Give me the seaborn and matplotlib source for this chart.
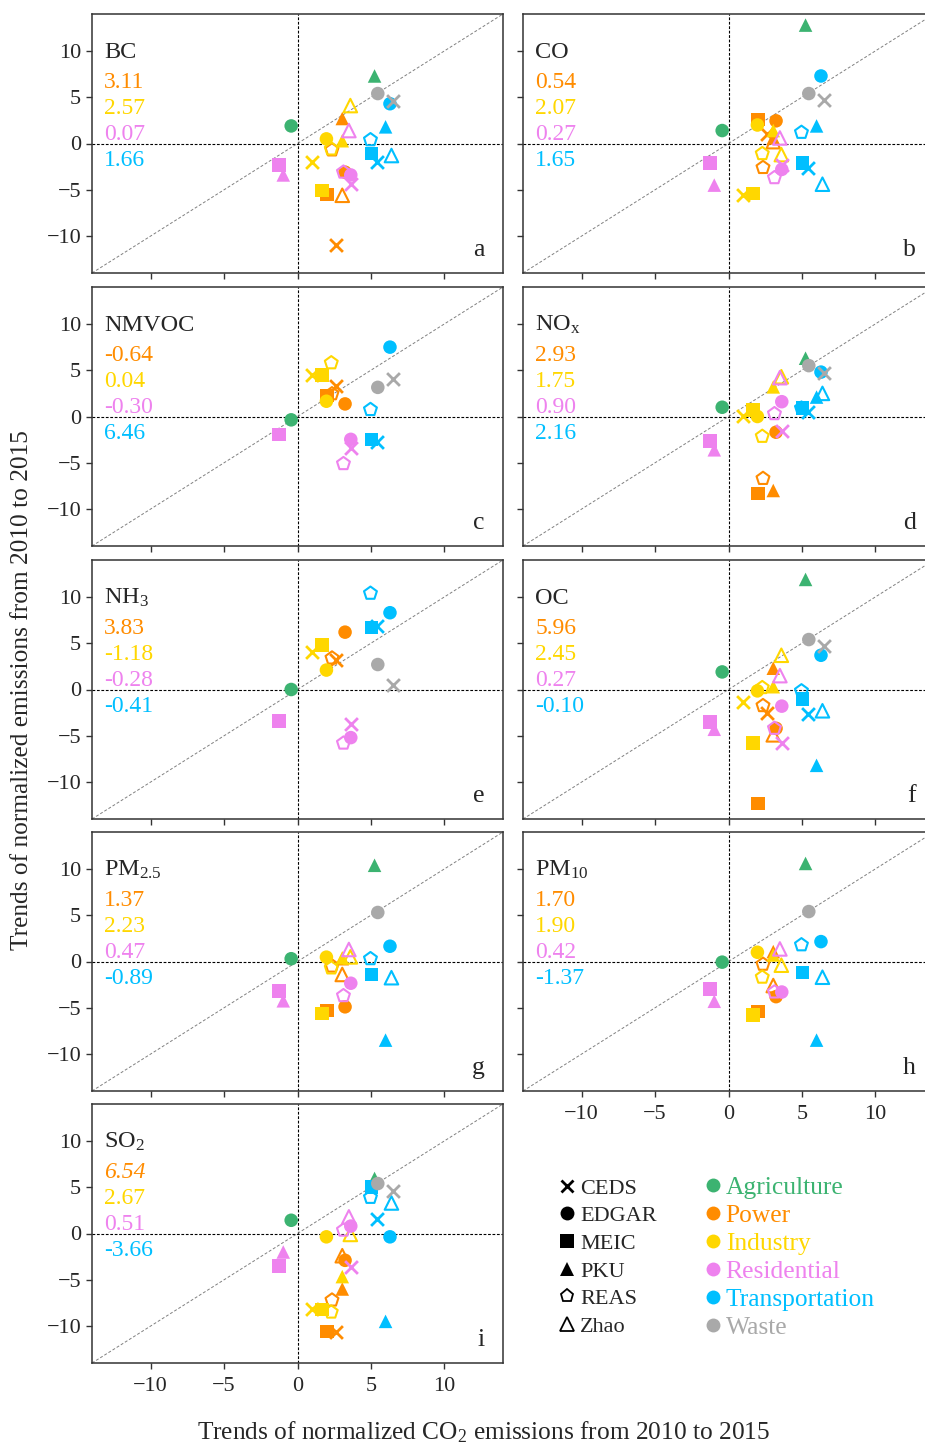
import numpy as np
import pandas as pd
import matplotlib
matplotlib.use("Agg")
import matplotlib.pyplot as plt
import seaborn as sns
from matplotlib.lines import Line2D

nan = np.nan

# ---------------- data ----------------
sectors = ["Agriculture", "Power", "Industry", "Residential", "Transportation", "Waste"]
sector_colors = ["mediumseagreen", "darkorange", "gold", "violet", "deepskyblue", "darkgray"]
inventories = ["CEDS", "EDGAR", "MEIC", "PKU", "REAS", "Zhao"]
inv_markers = ["x", "o", "s", "^", "p", "^"]
inv_open = [False, False, False, False, True, True]

# CO2 trend (x) per sector (rows) and inventory (cols: CEDS, EDGAR, MEIC, PKU, REAS, Zhao)
co2_trend = [
    [nan, -0.43, nan, 5.25, nan, nan],
    [2.60, 3.24, 2.00, 3.05, 2.35, 3.05],
    [1.00, 1.97, 1.66, 3.05, 2.30, 3.60],
    [3.67, 3.63, -1.27, -0.97, 3.13, 3.50],
    [5.45, 6.30, 5.05, 6.00, 4.97, 6.40],
    [6.53, 5.47, nan, nan, nan, nan],
]

bc = [
    [nan, 1.9, nan, 7.3, nan, nan],
    [-11.0, -3.1, -5.5, 2.7, -0.7, -5.6],
    [-2.0, 0.5, -5.1, 0.3, -0.6, 4.1],
    [-4.4, -3.4, -2.3, -3.4, -3.1, 1.4],
    [-2.0, 4.3, -1.1, 1.8, 0.4, -1.3],
    [4.6, 5.4, nan, nan, nan, nan],
]
co = [
    [nan, 1.4, nan, 12.8, nan, nan],
    [1.0, 2.45, 2.6, 0.6, -2.6, 0.2],
    [-5.6, 2.0, -5.4, 1.4, -1.1, -1.2],
    [-2.3, -2.8, -2.1, -4.5, -3.7, 0.6],
    [-2.6, 7.3, -2.1, 1.9, 1.2, -4.4],
    [4.7, 5.4, nan, nan, nan, nan],
]
nmvoc = [
    [nan, -0.36, nan, nan, nan, nan],
    [3.3, 1.36, 2.25, nan, 2.45, nan],
    [4.5, 1.65, 4.5, nan, 5.8, nan],
    [-3.37, -2.47, -1.97, nan, -5.1, nan],
    [-2.76, 7.5, -2.47, nan, 0.75, nan],
    [4.1, 3.15, nan, nan, nan, nan],
]
nox = [
    [nan, 1.0, nan, 6.3, nan, nan],
    [nan, -1.7, -8.3, -8.0, -6.7, nan],
    [0.1, 0.0, 0.7, 3.2, -2.15, 4.3],
    [-1.6, 1.6, -2.65, -3.6, 0.3, 4.2],
    [0.5, 4.8, 0.9, 2.1, 0.9, 2.5],
    [4.7, 5.5, nan, nan, nan, nan],
]
nh3 = [
    [nan, 0.0, nan, nan, nan, nan],
    [3.15, 6.2, nan, nan, 3.4, nan],
    [4.1, 2.1, 4.8, nan, nan, nan],
    [-3.7, -5.2, -3.4, nan, -5.8, nan],
    [6.9, 8.3, 6.7, nan, 10.4, nan],
    [0.5, 2.7, nan, nan, nan, nan],
]
oc = [
    [nan, 1.9, nan, 11.9, nan, nan],
    [-2.5, -4.2, -12.3, 2.3, -1.75, -4.9],
    [-1.3, -0.15, -5.8, 0.3, 0.2, 3.7],
    [-5.8, -1.8, -3.5, -4.3, -4.2, 1.5],
    [-2.6, 3.7, -1.0, -8.2, -0.15, -2.3],
    [4.7, 5.4, nan, nan, nan, nan],
]
pm25 = [
    [nan, 0.3, nan, 10.4, nan, nan],
    [nan, -4.9, -5.3, 0.3, -0.5, -1.4],
    [nan, 0.47, -5.6, 0.4, -0.7, 0.5],
    [nan, -2.35, -3.2, -4.25, -3.7, 1.3],
    [nan, 1.65, -1.4, -8.5, 0.3, -1.75],
    [nan, 5.3, nan, nan, nan, nan],
]
pm10 = [
    [nan, -0.07, nan, 10.6, nan, nan],
    [nan, -3.8, -5.4, 1.07, -0.3, -2.6],
    [nan, 1.0, -5.8, 0.7, -1.7, -0.4],
    [nan, -3.3, -3.0, -4.3, -3.3, 1.36],
    [nan, 2.15, -1.2, -8.5, 1.8, -1.7],
    [nan, 5.4, nan, nan, nan, nan],
]
so2 = [
    [nan, 1.43, nan, 5.95, nan, nan],
    [-10.6, -2.9, -10.6, -6.0, -7.2, -2.4],
    [-8.2, -0.36, -8.2, -4.66, -8.5, -0.1],
    [-3.65, 0.8, -3.5, -2.0, 0.36, 1.8],
    [1.6, -0.36, 5.0, -9.5, 3.9, 3.3],
    [4.6, 5.4, nan, nan, nan, nan],
]

species = ["BC", "CO", "NMVOC", "NO$_\\mathrm{x}$", "NH$_3$", "OC",
           "PM$_{2.5}$", "PM$_{10}$", "SO$_2$"]
species_tables = [bc, co, nmvoc, nox, nh3, oc, pm25, pm10, so2]
panel_letters = ["a", "b", "c", "d", "e", "f", "g", "h", "i"]

# slope values written in each panel (Power, Industry, Residential, Transportation)
power_vals = ["3.11", "0.54", "-0.64", "2.93", "3.83", "5.96", "1.37", "1.70", "6.54"]
industry_vals = ["2.57", "2.07", "0.04", "1.75", "-1.18", "2.45", "2.23", "1.90", "2.67"]
residential_vals = ["0.07", "0.27", "-0.30", "0.90", "-0.28", "0.27", "0.47", "0.42", "0.51"]
transport_vals = ["1.66", "1.65", "6.46", "2.16", "-0.41", "-0.10", "-0.89", "-1.37", "-3.66"]
italic_power = [False] * 8 + [True]

ticks = [-10, -5, 0, 5, 10]

# long-format table
rows = []
for sp, tab in zip(species, species_tables):
    for i, sec in enumerate(sectors):
        for j, inv in enumerate(inventories):
            v = tab[i][j]
            xv = co2_trend[i][j]
            if not (np.isnan(v) or np.isnan(xv)):
                rows.append(dict(species=sp, sector=sec, inventory=inv, co2=xv, value=v))
df = pd.DataFrame(rows)

# ---------------- style ----------------
sns.set_style("ticks")
plt.rcParams["font.family"] = ["Liberation Serif", "DejaVu Serif"]
plt.rcParams["mathtext.fontset"] = "custom"
plt.rcParams["mathtext.rm"] = "Liberation Serif"
plt.rcParams["mathtext.it"] = "Liberation Serif:italic"
plt.rcParams["mathtext.bf"] = "Liberation Serif:bold"

W, H = 925, 1447
fig = plt.figure(figsize=(W / 100, H / 100), dpi=100)

col_x = [92, 523]
row_top = [14, 287, 560, 832, 1104]
aw, ah = 411, 259

axes = []
for k in range(9):
    r, c = divmod(k, 2)
    ax = fig.add_axes([col_x[c] / W, 1 - (row_top[r] + ah) / H, aw / W, ah / H])
    axes.append((ax, r, c))

val_colors = [sector_colors[1], sector_colors[2], sector_colors[3], sector_colors[4]]

for k, (ax, r, c) in enumerate(axes):
    sp = species[k]
    ax.axhline(0, color="black", ls=(0, (2.5, 1.5)), lw=0.8, zorder=1)
    ax.axvline(0, color="black", ls=(0, (2.5, 1.5)), lw=0.8, zorder=1)
    ax.axline((0, 0), slope=1, color="gray", ls=(0, (3, 2)), lw=0.7, zorder=1)
    sub = df[df.species == sp]
    for sec, col in zip(sectors, sector_colors):
        for inv, m, op in zip(inventories, inv_markers, inv_open):
            d = sub[(sub.sector == sec) & (sub.inventory == inv)]
            if d.empty:
                continue
            if m == "x":
                sns.scatterplot(data=d, x="co2", y="value", marker="x", color=col,
                                s=85, linewidth=2.0, ax=ax, legend=False, zorder=3)
            elif op:
                sns.scatterplot(data=d, x="co2", y="value", marker=m, color=col,
                                facecolor="none", edgecolor=col, s=95, linewidth=1.5,
                                ax=ax, legend=False, zorder=3)
            else:
                sns.scatterplot(data=d, x="co2", y="value", marker=m, color=col,
                                edgecolor="none", s=95, linewidth=0, ax=ax,
                                legend=False, zorder=3)
    ax.set_xlim(-14, 14)
    ax.set_ylim(-14, 14)
    ax.set_xticks(ticks)
    ax.set_yticks(ticks)
    ax.set_xlabel("")
    ax.set_ylabel("")
    ax.tick_params(labelsize=16, length=4.3, width=1.0, color="#333333")
    ax.tick_params(axis="x", pad=6.0)
    for s in ax.spines.values():
        s.set_color("#333333")
        s.set_linewidth(1.1)
    if not (k == 8 or k == 7):
        ax.tick_params(labelbottom=False)
    if c == 1:
        ax.tick_params(labelleft=False)

    # annotations
    ax.text(0.03, 0.83, sp, transform=ax.transAxes, fontsize=17.5,
            ha="left", va="baseline")
    vals = [power_vals[k], industry_vals[k], residential_vals[k], transport_vals[k]]
    for n, (v, vc) in enumerate(zip(vals, val_colors)):
        style = "italic" if (n == 0 and italic_power[k]) else "normal"
        ax.text(0.03, 0.714 - 0.1 * n, v, transform=ax.transAxes, fontsize=17,
                color=vc, ha="left", va="baseline", style=style)
    ax.text(0.955, 0.065, panel_letters[k], transform=ax.transAxes, fontsize=18.5,
            ha="right", va="baseline")

fig.text(22 / W, 1 - 690 / H, "Trends of normalized emissions from 2010 to 2015",
         rotation=90, ha="center", va="center", fontsize=18.3)
fig.text(484 / W, 1 - 1432 / H, "Trends of normalized CO$_2$ emissions from 2010 to 2015",
         ha="center", va="center", fontsize=18.3)

# legends
inv_handles = []
for m, op in zip(inv_markers, inv_open):
    if m == "x":
        h = Line2D([], [], marker="x", color="black", ls="none", markersize=9,
                   markeredgewidth=2.0)
    elif op:
        h = Line2D([], [], marker=m, color="black", ls="none", markersize=9.5,
                   markerfacecolor="none", markeredgewidth=1.3)
    else:
        h = Line2D([], [], marker=m, color="black", ls="none", markersize=10,
                   markeredgewidth=0)
    inv_handles.append(h)
leg1 = fig.legend(inv_handles, inventories, loc="upper left",
                  bbox_to_anchor=(558 / W, 1 - 1178 / H), frameon=False,
                  borderpad=0, borderaxespad=0, handlelength=0.8, handletextpad=0.2,
                  labelspacing=0.32, fontsize=16)
sec_handles = [Line2D([], [], marker="o", color=cc, ls="none", markersize=10,
                      markeredgewidth=0) for cc in sector_colors]
leg2 = fig.legend(sec_handles, sectors, loc="upper left",
                  bbox_to_anchor=(706 / W, 1 - 1176 / H), frameon=False,
                  borderpad=0, borderaxespad=0, handlelength=0.55, handletextpad=0.22,
                  labelspacing=0.2, fontsize=18.4, labelcolor=sector_colors)

fig.savefig("out.png", dpi=100)
